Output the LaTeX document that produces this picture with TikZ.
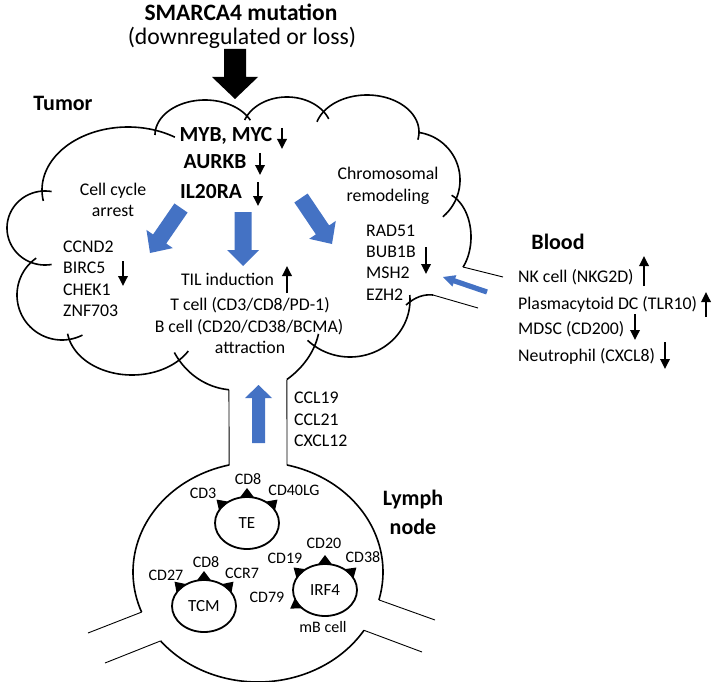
\documentclass[tikz,border=0pt]{standalone}
\usepackage{fontspec}
\setmainfont{Carlito}
\usetikzlibrary{calc,arrows.meta,shapes.geometric}
\definecolor{pptblue}{RGB}{68,114,196}
\newcommand\elarc[6]{\draw[outline] plot[domain=#5:#6,samples=70,variable=\t] ({#1+#3*cos(\t)},{#2+#4*sin(\t)});}
\newcommand\blockarrow[6]{%
  \coordinate (hb) at ($(#3)!#6!(#2)$);
  \fill[#1] ($(#2)!#4!90:(#3)$) -- ($(hb)!#4!90:(#3)$) -- ($(hb)!#5!90:(#3)$) -- (#3) -- ($(hb)!#5!-90:(#3)$) -- ($(hb)!#4!-90:(#3)$) -- ($(#2)!#4!-90:(#3)$) -- cycle;}
\newcommand\spike[5]{\fill ({#1+#3*cos(#5-13)},{#2+#4*sin(#5-13)}) -- ({#1+(#3+9)*cos(#5)},{#2+(#4+9)*sin(#5)}) -- ({#1+#3*cos(#5+13)},{#2+#4*sin(#5+13)}) -- cycle;}
\begin{document}
\begin{tikzpicture}[x=1pt,y=-1pt,
  outline/.style={line width=1.6pt},
  thin/.style={line width=0.9pt},
  rtxt/.style={font=\fontsize{17.8}{20}\selectfont,inner sep=0pt,text height=11.5pt,text depth=0pt},
  stxt/.style={font=\fontsize{16}{18}\selectfont,inner sep=0pt,text height=10.4pt,text depth=0pt},
  btxt/.style={font=\bfseries\fontsize{21.5}{24}\selectfont,inner sep=0pt,text height=13.9pt,text depth=0pt},
  htxt/.style={font=\bfseries\fontsize{22}{24}\selectfont,inner sep=0pt,text height=14.3pt,text depth=0pt},
  ttxt/.style={font=\bfseries\fontsize{23.5}{26}\selectfont,inner sep=0pt,text height=15.2pt,text depth=0pt},
  sub/.style={font=\fontsize{23.7}{26}\selectfont,inner sep=0pt,text height=15.3pt,text depth=0pt},
  smallarr/.style={line width=1.8pt,-{Triangle[width=9.5pt,length=10pt]}},
  cellnode/.style={draw,ellipse,line width=1.8pt,minimum width=64pt,minimum height=52pt,inner sep=0pt,font=\fontsize{17}{19}\selectfont}]
\useasboundingbox (0,0) rectangle (720,682);

% ---- title and black arrow
\node[ttxt] (title) at (241,13) {SMARCA4 mutation};
\node[sub] (subtitle) at (242,37) {(downregulated or loss)};
\coordinate (ba1) at (235,49); \coordinate (ba2) at (235,99);
\blockarrow{black}{ba1}{ba2}{11pt}{23pt}{22pt}

% ---- tumor cloud
\elarc{128}{190}{86}{63}{170}{303}
\elarc{205}{135}{50}{35}{180}{335}
\elarc{287}{132}{45}{35}{200}{338}
\elarc{367}{132}{52}{37}{196}{372}
\elarc{412}{180}{48}{48}{-82}{50}
\elarc{440}{237}{31}{45}{-68}{42}
\draw[outline] (406,305) .. controls (415,297) and (424,294) .. (433,295);
\elarc{350}{300}{60}{57}{-5}{135}
\elarc{220}{320}{100}{80}{10}{48}
\elarc{235}{315}{70}{75}{95}{150}
\elarc{132}{327}{65}{48}{30}{172}
\elarc{62}{295}{45}{45}{63}{235}
\elarc{45}{228}{38}{37}{80}{280}

% blood vessel
\coordinate (bv1a) at (463,267); \coordinate (bv1b) at (503,277);
\coordinate (bv2a) at (433,295); \coordinate (bv2b) at (478,308);
\draw[thin] (bv1a) -- (bv1b);
\draw[thin] (bv2a) -- (bv2b);

% neck
\coordinate (nl1) at (228.9,389.7); \coordinate (nl2) at (229.2,465);
\coordinate (nr1) at (286.9,379.5); \coordinate (nr2) at (287,465);
\draw[thin] (nl1) -- (nl2);
\draw[thin] (nr1) -- (nr2);

% ---- lymph node
\elarc{258}{572}{125}{110}{158.6}{256.7}
\elarc{258}{572}{125}{110}{-76.6}{14.7}
\elarc{258}{572}{125}{110}{32}{141.2}
\coordinate (lv1a) at (141.6,612.1); \coordinate (lv1b) at (88,633);
\coordinate (lv2a) at (160.6,640.9); \coordinate (lv2b) at (105,663);
\coordinate (lv3a) at (378.9,599.9); \coordinate (lv3b) at (435,620);
\coordinate (lv4a) at (364,630.3); \coordinate (lv4b) at (422,652);
\draw[thin] (lv1a) -- (lv1b);
\draw[thin] (lv2a) -- (lv2b);
\draw[thin] (lv3a) -- (lv3b);
\draw[thin] (lv4a) -- (lv4b);

% ---- tumor texts
\node[htxt] (tumor) at (63,103) {Tumor};
\node[btxt] (myb) at (226,135) {MYB, MYC};
\node[btxt] (aurkb) at (215,162) {AURKB};
\node[btxt] (il20) at (211,192) {IL20RA};
\coordinate (a1s) at (282,128); \coordinate (a1e) at (282,149);
\coordinate (a2s) at (260,153); \coordinate (a2e) at (260,175);
\coordinate (a3s) at (258,182); \coordinate (a3e) at (258,206);
\draw[smallarr] (a1s) -- (a1e);
\draw[smallarr] (a2s) -- (a2e);
\draw[smallarr] (a3s) -- (a3e);

\node[rtxt] (cc1) at (113,190) {Cell cycle};
\node[rtxt] (cc2) at (113,211) {arrest};
\node[rtxt,anchor=west] (g1) at (63,247) {CCND2};
\node[rtxt,anchor=west] (g2) at (63,268) {BIRC5};
\node[rtxt,anchor=west] (g3) at (63,290) {CHEK1};
\node[rtxt,anchor=west] (g4) at (63,311) {ZNF703};
\coordinate (a4s) at (123,261); \coordinate (a4e) at (123,286);
\draw[smallarr] (a4s) -- (a4e);

\node[rtxt] (ch1) at (388,174) {Chromosomal};
\node[rtxt] (ch2) at (388,196) {remodeling};
\node[rtxt,anchor=west] (r1) at (366,231) {RAD51};
\node[rtxt,anchor=west] (r2) at (366,252) {BUB1B};
\node[rtxt,anchor=west] (r3) at (366,273) {MSH2};
\node[rtxt,anchor=west] (r4) at (366,295) {EZH2};
\coordinate (a5s) at (426,247); \coordinate (a5e) at (426,274);
\draw[smallarr] (a5s) -- (a5e);

\node[rtxt] (til) at (227.5,280) {TIL induction};
\coordinate (a6s) at (287,293); \coordinate (a6e) at (287,266);
\draw[smallarr] (a6s) -- (a6e);
\node[rtxt] (tcell) at (250,305) {T cell (CD3/CD8/PD-1)};
\node[rtxt] (bcell) at (249,327) {B cell (CD20/CD38/BCMA)};
\node[rtxt] (attr) at (250,348) {attraction};

% blue arrows
\coordinate (bl1) at (181,208); \coordinate (bl1t) at (150,253);
\blockarrow{pptblue}{bl1}{bl1t}{8pt}{16pt}{17pt}
\coordinate (bl2) at (243,212); \coordinate (bl2t) at (243,266);
\blockarrow{pptblue}{bl2}{bl2t}{8.5pt}{16pt}{16pt}
\coordinate (bl3) at (301,198); \coordinate (bl3t) at (332,244);
\blockarrow{pptblue}{bl3}{bl3t}{8pt}{16pt}{17pt}
\coordinate (bl4) at (258.5,443); \coordinate (bl4t) at (258.5,385);
\blockarrow{pptblue}{bl4}{bl4t}{6.5pt}{13.5pt}{13pt}
\coordinate (bl5) at (487,292); \coordinate (bl5t) at (443,277);
\blockarrow{pptblue}{bl5}{bl5t}{2.6pt}{6pt}{12pt}

% ---- blood
\node[htxt] (blood) at (558,242) {Blood};
\node[rtxt,anchor=west] (nk) at (518,277) {NK cell (NKG2D)};
\node[rtxt,anchor=west] (pdc) at (518,304) {Plasmacytoid DC (TLR10)};
\node[rtxt,anchor=west] (mdsc) at (518,329) {MDSC (CD200)};
\node[rtxt,anchor=west] (neu) at (518,356) {Neutrophil (CXCL8)};
\coordinate (a7s) at (644,286); \coordinate (a7e) at (644,256);
\coordinate (a8s) at (706,317); \coordinate (a8e) at (706,292);
\coordinate (a9s) at (635,314); \coordinate (a9e) at (635,340);
\coordinate (a10s) at (665,342); \coordinate (a10e) at (665,369);
\draw[smallarr] (a7s) -- (a7e);
\draw[smallarr] (a8s) -- (a8e);
\draw[smallarr] (a9s) -- (a9e);
\draw[smallarr] (a10s) -- (a10e);

% ---- chemokines
\node[rtxt,anchor=west] (ccl19) at (294,398) {CCL19};
\node[rtxt,anchor=west] (ccl21) at (294,420) {CCL21};
\node[rtxt,anchor=west] (cxcl12) at (294,441) {CXCL12};

% ---- lymph node label
\node[htxt] (lymph) at (413,498) {Lymph};
\node[htxt] (lnode) at (413,527) {node};

% ---- cells
\node[cellnode] (te) at (247,523) {TE};
\spike{247}{523}{32}{26}{270}
\spike{247}{523}{32}{26}{222}
\spike{247}{523}{32}{26}{318}
\node[stxt] (te1) at (203,493) {CD3};
\node[stxt] (te2) at (248,479) {CD8};
\node[stxt] (te3) at (294,490) {CD40LG};

\node[cellnode] (tcm) at (204,606) {TCM};
\spike{204}{606}{32}{26}{270}
\spike{204}{606}{32}{26}{224}
\spike{204}{606}{32}{26}{316}
\node[stxt] (tc1) at (166,575) {CD27};
\node[stxt] (tc2) at (206,562) {CD8};
\node[stxt] (tc3) at (242,573) {CCR7};

\node[cellnode] (irf) at (325,590) {IRF4};
\spike{325}{590}{32}{26}{270}
\spike{325}{590}{32}{26}{220}
\spike{325}{590}{32}{26}{320}
\spike{325}{590}{32}{26}{148}
\node[stxt] (ir1) at (285,558) {CD19};
\node[stxt] (ir2) at (324,543) {CD20};
\node[stxt] (ir3) at (363,557) {CD38};
\node[stxt] (ir4) at (267,597) {CD79};
\node[stxt] (ir5) at (323,627) {mB cell};
\end{tikzpicture}
\end{document}
